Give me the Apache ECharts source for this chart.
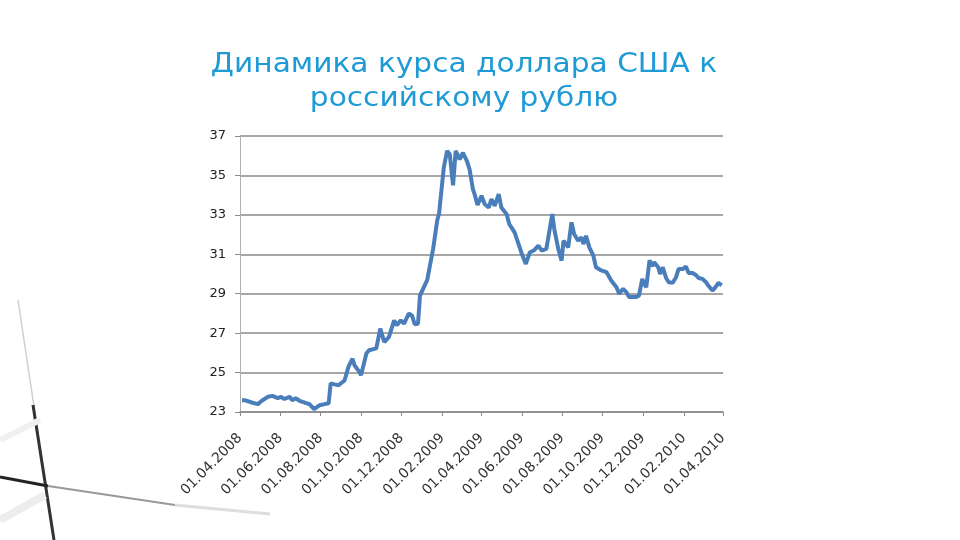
<!DOCTYPE html>
<html>
<head>
<meta charset="utf-8">
<script src="https://cdn.jsdelivr.net/npm/echarts@6/dist/echarts.min.js"></script>
<style>html,body{margin:0;padding:0;background:#fff}#c{width:960px;height:540px}</style>
</head>
<body>
<div id="c"></div>
<script>
var titleLines = ['Динамика курса доллара США к', 'российскому рублю'];
var tickDates = ['2008-04-01','2008-06-01','2008-08-01','2008-10-01','2008-12-01','2009-02-01','2009-04-01','2009-06-01','2009-08-01','2009-10-01','2009-12-01','2010-02-01','2010-04-01'];
var yTicks = [23, 25, 27, 29, 31, 33, 35, 37];
var dates = ['2008-04-04','2008-04-08','2008-04-20','2008-04-28','2008-05-04','2008-05-13','2008-05-20','2008-05-28','2008-06-02','2008-06-07','2008-06-15','2008-06-19','2008-06-24','2008-06-30','2008-07-08','2008-07-15','2008-07-22','2008-07-30','2008-08-07','2008-08-13','2008-08-16','2008-08-22','2008-08-28','2008-09-06','2008-09-12','2008-09-18','2008-09-21','2008-09-27','2008-10-01','2008-10-09','2008-10-13','2008-10-24','2008-10-30','2008-11-05','2008-11-12','2008-11-20','2008-11-24','2008-11-30','2008-12-05','2008-12-12','2008-12-17','2008-12-21','2008-12-26','2008-12-29','2009-01-09','2009-01-18','2009-01-24','2009-01-27','2009-01-30','2009-02-03','2009-02-08','2009-02-12','2009-02-17','2009-02-21','2009-02-27','2009-03-04','2009-03-10','2009-03-14','2009-03-19','2009-03-22','2009-03-26','2009-04-01','2009-04-06','2009-04-12','2009-04-16','2009-04-21','2009-04-27','2009-05-01','2009-05-09','2009-05-13','2009-05-21','2009-05-27','2009-06-01','2009-06-07','2009-06-13','2009-06-19','2009-06-26','2009-07-01','2009-07-08','2009-07-14','2009-07-17','2009-07-20','2009-07-26','2009-07-31','2009-08-03','2009-08-10','2009-08-15','2009-08-19','2009-08-25','2009-08-30','2009-09-02','2009-09-06','2009-09-11','2009-09-17','2009-09-21','2009-09-29','2009-10-07','2009-10-14','2009-10-22','2009-10-26','2009-11-01','2009-11-06','2009-11-10','2009-11-21','2009-11-25','2009-11-30','2009-12-03','2009-12-06','2009-12-11','2009-12-15','2009-12-18','2009-12-24','2009-12-27','2009-12-31','2010-01-05','2010-01-09','2010-01-15','2010-01-20','2010-01-24','2010-01-30','2010-02-04','2010-02-08','2010-02-14','2010-02-19','2010-02-23','2010-03-01','2010-03-06','2010-03-10','2010-03-16','2010-03-21','2010-03-25','2010-03-30'];
var rates = [23.6,23.6,23.47,23.4,23.57,23.77,23.82,23.7,23.77,23.66,23.77,23.6,23.7,23.57,23.47,23.4,23.15,23.34,23.4,23.44,24.45,24.4,24.36,24.6,25.3,25.7,25.37,25.1,24.87,25.97,26.13,26.23,27.23,26.55,26.8,27.65,27.4,27.65,27.48,27.99,27.9,27.45,27.48,28.9,29.7,31.3,32.7,33.1,33.2,35.4,36.24,36.07,34.5,36.24,35.82,36.15,35.73,35.31,34.3,34.0,33.5,33.97,33.54,33.37,33.8,33.46,34.05,33.37,33.03,32.53,32.11,31.52,31.02,30.51,31.1,31.19,31.44,31.19,31.27,32.45,33.04,32.28,31.27,30.68,31.69,31.35,32.62,32.03,31.69,31.86,31.52,31.94,31.35,30.93,30.34,30.18,30.09,29.67,29.33,29.0,29.25,29.08,28.83,28.83,28.91,29.75,29.5,29.33,30.7,30.4,30.6,30.34,30.0,30.34,29.8,29.58,29.55,29.84,30.26,30.25,30.38,30.05,30.05,29.95,29.8,29.75,29.6,29.4,29.16,29.35,29.55,29.42];

function pad(n){return (n<10?'0':'')+n;}
function ts(s){var p=s.split('-');return Date.UTC(+p[0], +p[1]-1, +p[2]);}
var chart = echarts.init(document.getElementById('c'), null, {renderer:'canvas'});
var seriesData = dates.map(function(d,i){return [ts(d), rates[i]];});
var tickVals = tickDates.map(ts);
var FONT = 'DejaVu Sans, Verdana, sans-serif';

chart.setOption({
  backgroundColor: '#ffffff',
  animation: false,
  graphic: [
    {type:'line', shape:{x1:18,y1:300,x2:54,y2:540}, style:{stroke:'#d0d0d0', lineWidth:1.5}, z:-1},
    {type:'line', shape:{x1:33,y1:405,x2:54,y2:540}, style:{stroke:'#333', lineWidth:3}, z:-1},
    {type:'line', shape:{x1:0,y1:477,x2:48,y2:486}, style:{stroke:'#222', lineWidth:3}, z:-1},
    {type:'line', shape:{x1:48,y1:486,x2:175,y2:505}, style:{stroke:'#999', lineWidth:2}, z:-1},
    {type:'line', shape:{x1:175,y1:505,x2:270,y2:514}, style:{stroke:'#dedede', lineWidth:3}, z:-1},
    {type:'line', shape:{x1:0,y1:440,x2:40,y2:420}, style:{stroke:'#f0f0f0', lineWidth:6}, z:-1},
    {type:'line', shape:{x1:0,y1:520,x2:45,y2:495}, style:{stroke:'#ededed', lineWidth:8}, z:-1},
    {type:'text', x:464, y:65, scaleX:1.14, style:{text:titleLines[0], fill:'#1e9ad6', font:'26px '+FONT, align:'center', verticalAlign:'middle'}},
    {type:'text', x:464, y:99, scaleX:1.14, style:{text:titleLines[1], fill:'#1e9ad6', font:'26px '+FONT, align:'center', verticalAlign:'middle'}}
  ],
  grid: {left:240, right:237, top:136, bottom:128, containLabel:false},
  xAxis: {
    type: 'value',
    min: tickVals[0], max: tickVals[tickVals.length-1],
    axisLine: {show:true, lineStyle:{color:'#8a8a8a', width:1.5}},
    axisTick: {show:true, customValues: tickVals, length:4, lineStyle:{color:'#8a8a8a'}},
    axisLabel: {
      customValues: tickVals, rotate:45, margin:24, showMinLabel:true, showMaxLabel:true,
      color:'#333', fontSize:14, fontFamily:FONT,
      formatter: function(v){var d=new Date(v);return pad(d.getUTCDate())+'.'+pad(d.getUTCMonth()+1)+'.'+d.getUTCFullYear();}
    },
    splitLine: {show:false}
  },
  yAxis: {
    type: 'value', min: yTicks[0], max: yTicks[yTicks.length-1], interval: 2,
    axisLine: {show:true, lineStyle:{color:'#b0b0b0', width:1}},
    axisTick: {show:true, length:5, lineStyle:{color:'#8a8a8a'}},
    axisLabel: {color:'#222', fontSize:13, margin:14, fontFamily:FONT},
    splitLine: {show:true, lineStyle:{color:'#8a8a8a', width:1.5}}
  },
  series: [{
    type: 'line', data: seriesData, showSymbol:false, symbol:'none',
    lineStyle: {color:'#4a7ebb', width:4}, z:5
  }]
});
</script>
</body>
</html>
